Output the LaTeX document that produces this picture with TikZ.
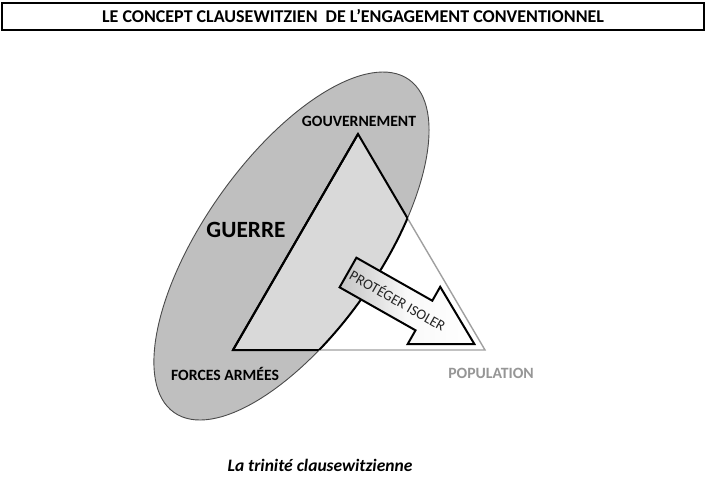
\documentclass[tikz,border=0pt]{standalone}
\usepackage{fontspec}
\setmainfont{Carlito}
\definecolor{ellfill}{HTML}{BFBFBF}
\definecolor{ellline}{HTML}{4A4A4A}
\definecolor{interfill}{HTML}{D9D9D9}
\definecolor{popgray}{HTML}{969696}
\definecolor{arrtext}{HTML}{262626}
\definecolor{arrshade}{HTML}{C4C4C4}
\begin{document}
\begin{tikzpicture}[x=1pt,y=-1pt,
  ellrot/.style={rotate around={54.8:(291.5,246)}},
  lbl/.style={inner sep=0pt, font=\fontsize{15.7}{18}\selectfont\bfseries},
  titlebox/.style={draw=black, line width=2pt, minimum width=702pt, minimum height=27pt, inner sep=0pt, font=\fontsize{18}{21}\selectfont\bfseries},
  blackedge/.style={draw=black, line width=2pt, line join=miter},
  grayedge/.style={draw=popgray!90, line width=1.4pt}
]
\useasboundingbox (0,0) rectangle (708,488);
\fill[white] (0,0) rectangle (708,488);

% title
\node[titlebox] (title) at (353,16.5) {LE CONCEPT CLAUSEWITZIEN\ \ DE L’ENGAGEMENT CONVENTIONNEL};

% triangle corners
\coordinate (G) at (358,134);
\coordinate (F) at (233,350);
\coordinate (P) at (485,350);
\coordinate (ec) at (291.5,246);

% ellipse (guerre)
\fill[ellfill, ellrot] (ec) ellipse [x radius=203.7pt, y radius=87.7pt];
\draw[ellline, line width=0.9pt, ellrot] (ec) ellipse [x radius=203.7pt, y radius=87.7pt];

% full triangle in gray
\draw[grayedge] (G) -- (P) -- (F);

% intersection region
\begin{scope}
  \clip[ellrot] (ec) ellipse [x radius=203.7pt, y radius=87.7pt];
  \fill[interfill] (G) -- (F) -- (P) -- cycle;
  \draw[blackedge] (G) -- (F) -- (P) -- cycle;
\end{scope}
\begin{scope}
  \clip (G) -- (F) -- (P) -- cycle;
  \draw[black, line width=2pt, ellrot] (ec) ellipse [x radius=203.7pt, y radius=87.7pt];
\end{scope}
\draw[black, line width=2pt, line cap=round] (G) -- (F);

% block arrow
\coordinate (A1) at (356.4,257.7);
\coordinate (A2) at (432.3,300.7);
\coordinate (A3) at (440.2,286.8);
\coordinate (A4) at (474.4,344.1);
\coordinate (A5) at (407.6,344.2);
\coordinate (A6) at (415.5,330.3);
\coordinate (A7) at (339.6,287.3);
\path[left color=arrshade, right color=white, middle color=white!90!arrshade]
  (A1) -- (A2) -- (A3) -- (A4) -- (A5) -- (A6) -- (A7) -- cycle;
\draw[black, line width=2pt, line join=miter]
  (A1) -- (A2) -- (A3) -- (A4) -- (A5) -- (A6) -- (A7) -- cycle;
\node[inner sep=0pt, rotate=-29.5, text=arrtext, font=\fontsize{14.6}{16}\selectfont] (arrlbl) at (398,300) {PROTÉGER ISOLER};

% labels
\node[lbl] (gouv) at (359,121) {GOUVERNEMENT};
\node[lbl, font=\fontsize{23.3}{26}\selectfont\bfseries] (guerre) at (246,229.5) {GUERRE};
\node[lbl] (forces) at (225,374) {FORCES ARMÉES};
\node[lbl, text=popgray] (pop) at (491,373) {POPULATION};
\node[inner sep=0pt, font=\fontsize{17.5}{20}\selectfont\bfseries\itshape] (caption) at (320,465) {La trinité clausewitzienne};
\end{tikzpicture}
\end{document}
